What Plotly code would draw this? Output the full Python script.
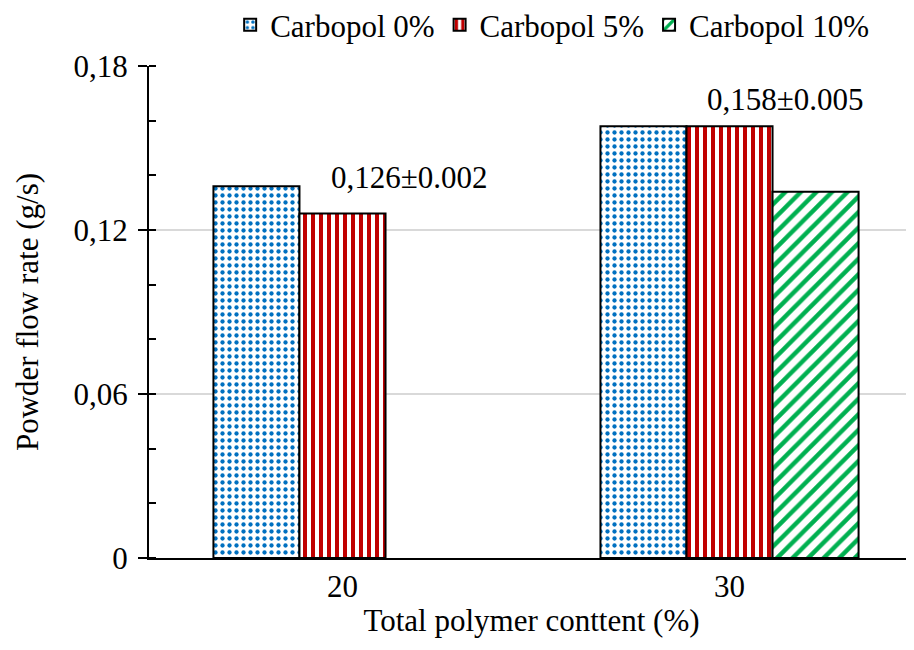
import plotly.graph_objects as go

categories = ["20", "30"]
series_names = ["Carbopol 0%", "Carbopol 5%", "Carbopol 10%"]
carbopol_0 = [0.136, 0.158]
carbopol_5 = [0.126, 0.158]
carbopol_10 = [None, 0.134]
label_positions = [0, 1]          # category index of each data label
label_texts = ["0,126±0.002", "0,158±0.005"]
label_values = [0.126, 0.158]
y_ticks = [0, 0.06, 0.12, 0.18]
y_ticktext = ["0", "0,06", "0,12", "0,18"]

FONT = "Liberation Serif"
FS = 31

def fnt():
    return dict(family=FONT, size=FS, color="black")

fig = go.Figure()
styles = [
    dict(shape=".", fgcolor="#0070C0", bgcolor="white", size=7, solidity=0.3, fgopacity=1),
    dict(shape="|", fgcolor="#C00000", bgcolor="white", size=8, solidity=0.5, fgopacity=1),
    dict(shape="/", fgcolor="#00B050", bgcolor="white", size=11, solidity=0.4, fgopacity=1),
]
for name, vals, pat in zip(series_names, [carbopol_0, carbopol_5, carbopol_10], styles):
    fig.add_trace(go.Bar(
        x=categories, y=vals, name=name,
        marker=dict(color="white", pattern=pat, line=dict(color="black", width=2)),
    ))

shifts = [(67, 36), (56, 27)]
for pos, val, txt, (dx, dy) in zip(label_positions, label_values, label_texts, shifts):
    fig.add_annotation(x=pos, y=val, xref="x", yref="y", text=txt,
                       showarrow=False, xshift=dx, yshift=dy, font=fnt())

# page body has an 8px margin, so the figure is drawn 8px in from the window edge
fig.update_layout(
    template="none",
    width=906, height=642,
    margin=dict(l=141, r=0, t=58, b=92, autoexpand=False),
    paper_bgcolor="white", plot_bgcolor="white",
    font=fnt(),
    barmode="group", bargap=0.333, bargroupgap=0,
    legend=dict(orientation="h", x=0.527, xanchor="center", y=1.083, yanchor="middle",
                font=fnt(), itemwidth=30, tracegroupgap=0),
    showlegend=True,
)
fig.update_xaxes(
    type="category", range=[-0.5, 1.4767],
    showline=True, linecolor="black", linewidth=2,
    ticks="", showgrid=False, tickfont=fnt(),
    title=dict(text="Total polymer conttent (%)", standoff=6, font=fnt()),
)
fig.update_yaxes(
    range=[0, 0.18], tickvals=y_ticks, ticktext=y_ticktext, tickfont=fnt(),
    ticklabelstandoff=4,
    showline=True, linecolor="black", linewidth=2,
    ticks="outside", ticklen=9, tickwidth=2, tickcolor="black",
    minor=dict(dtick=0.02, ticks="inside", ticklen=7, tickwidth=2, tickcolor="black", showgrid=False),
    showgrid=True, gridcolor="#D9D9D9", gridwidth=2,
    zeroline=False,
    title=dict(text="Powder flow rate (g/s)", standoff=26, font=fnt()),
)

fig.write_html("out.html")
